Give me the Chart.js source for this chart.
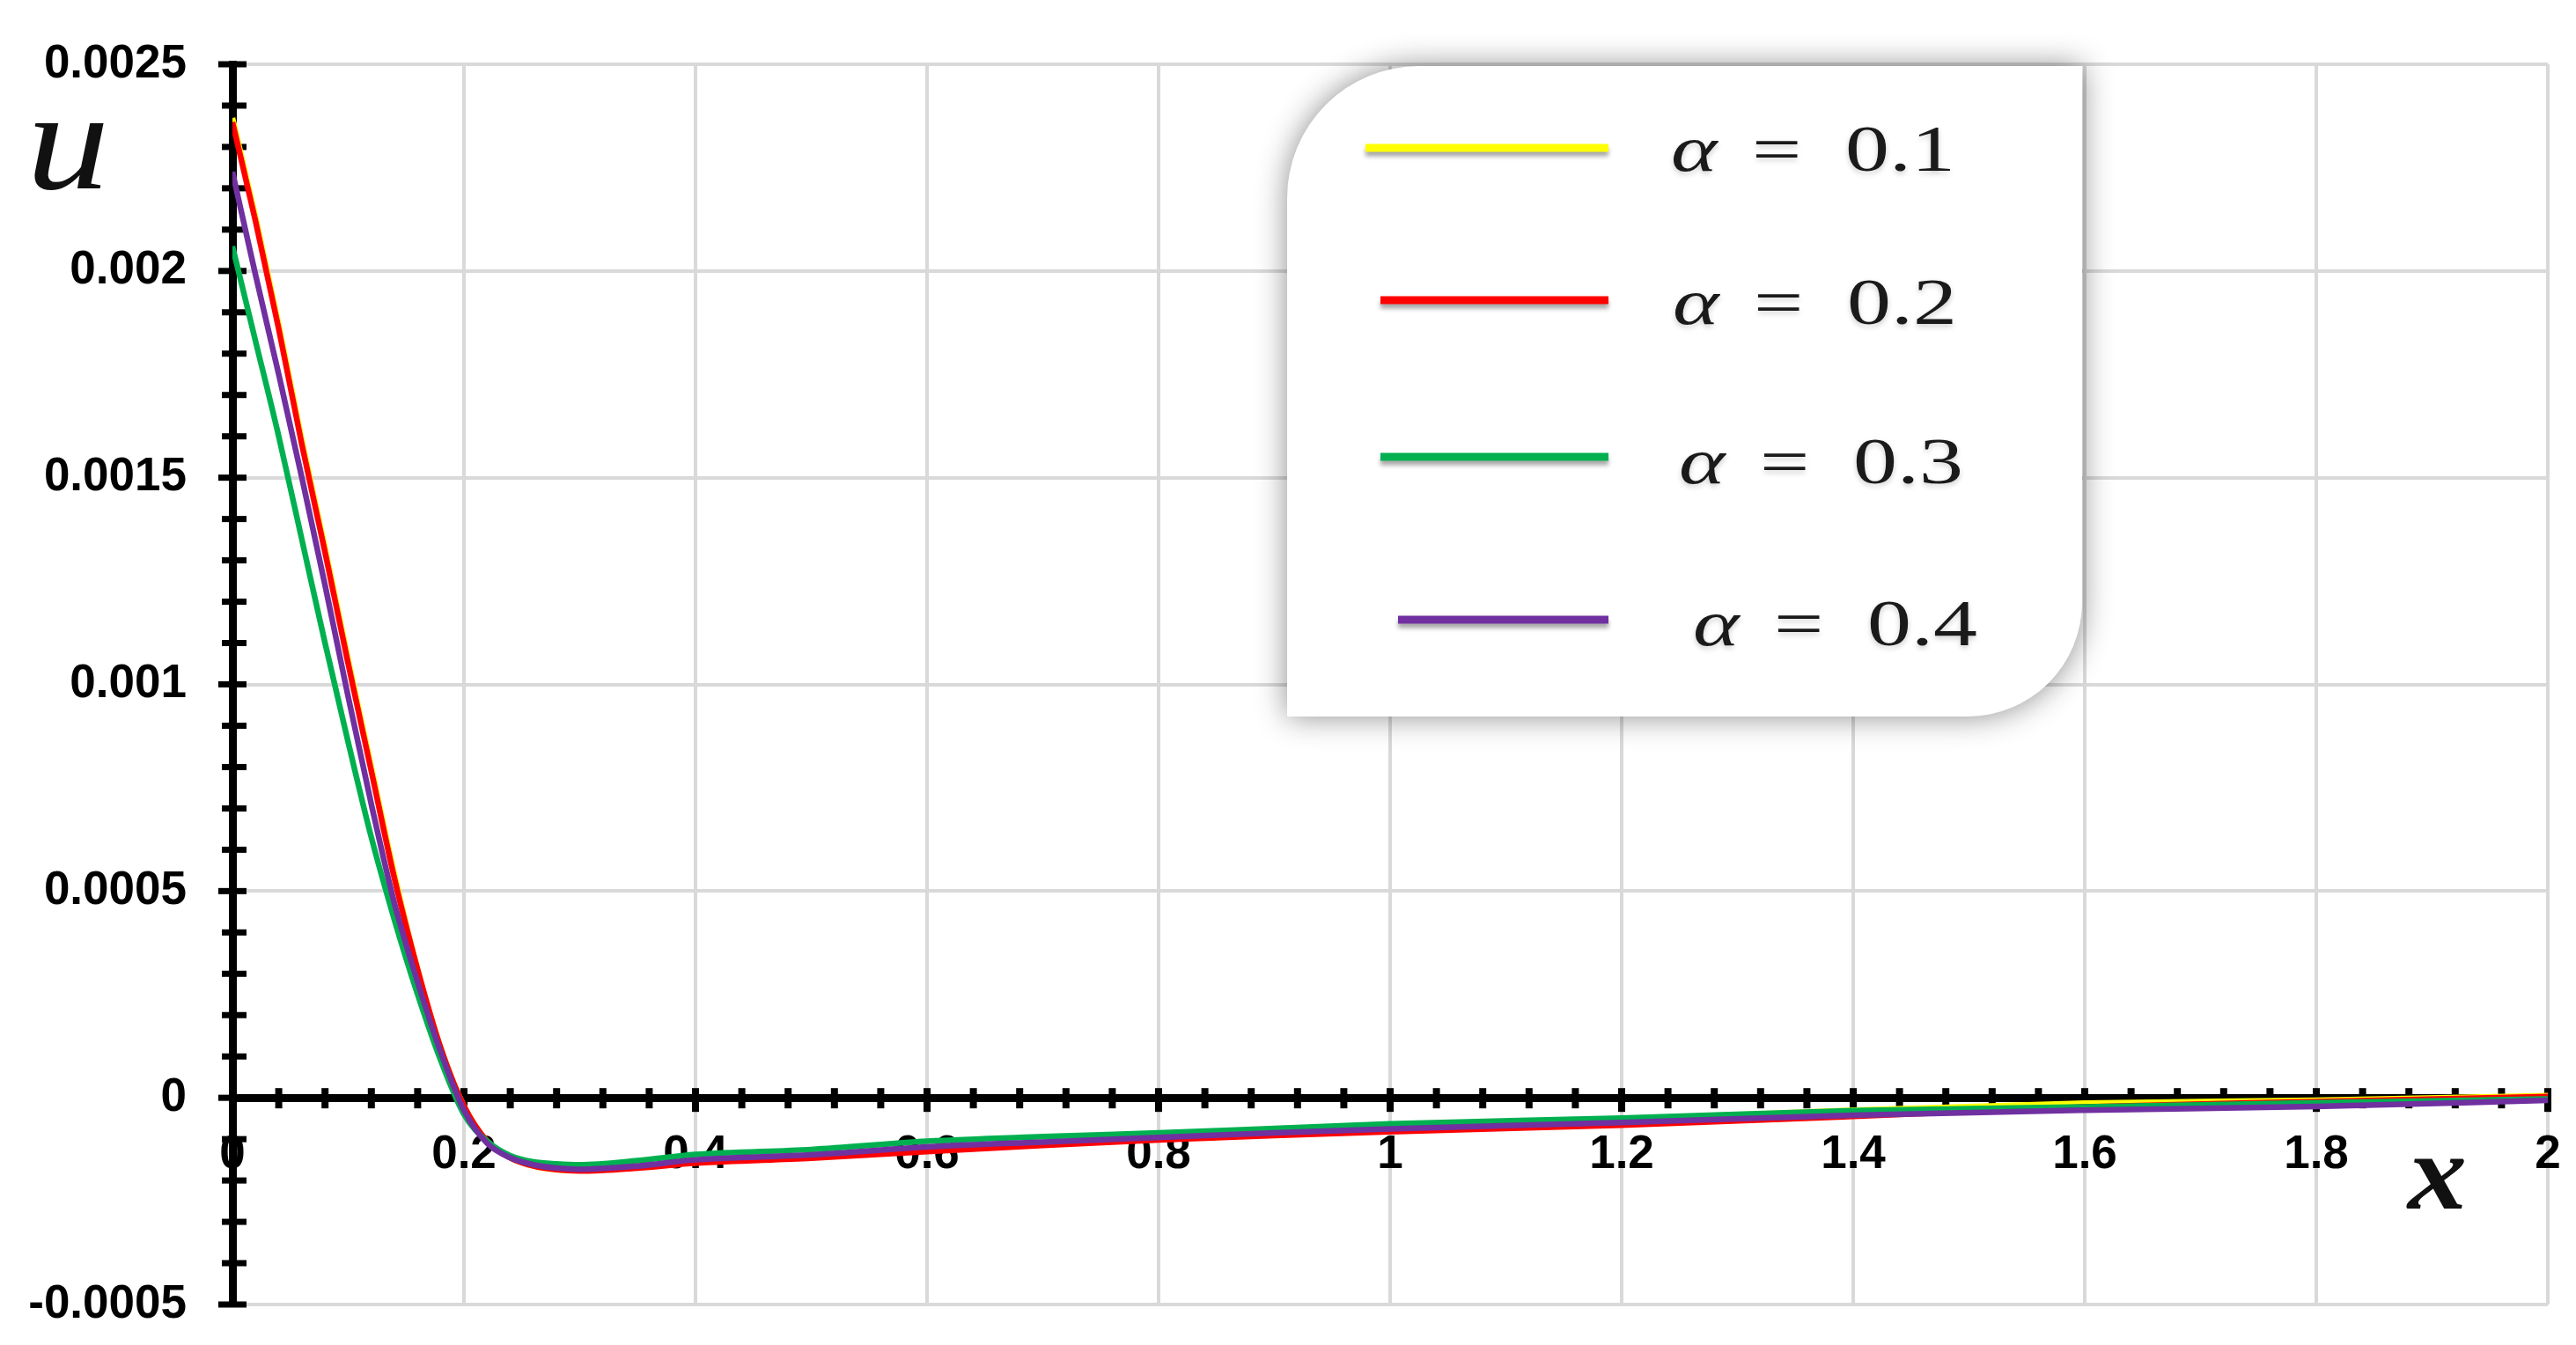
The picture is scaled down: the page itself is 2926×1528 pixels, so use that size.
<!DOCTYPE html>
<html lang="en">
  <head>
    <meta charset="UTF-8" />
    <meta name="viewport" content="width=device-width, initial-scale=1.0" />
    <script src="https://cdn.jsdelivr.net/npm/chart.js@4.4.1/dist/chart.umd.min.js"></script>
    <title>u against x for four alpha values</title>
    <style>
      html, body { margin: 0; padding: 0; background: #fff; }
      #wrap { width: 2926px; height: 1528px; position: relative; }
    </style>
  </head>
  <body>
    <div id="wrap"><canvas id="myChart"></canvas></div>

    <script>
      const xs = [0, 0.02, 0.04, 0.06, 0.08, 0.1, 0.12, 0.14, 0.16, 0.18, 0.2, 0.22, 0.24, 0.26, 0.28, 0.3,
        0.35, 0.4, 0.5, 0.6, 0.7, 0.8, 0.9, 1.0, 1.2, 1.4, 1.6, 1.8, 2.0];

      const alphas = ["0.1", "0.2", "0.3", "0.4"];

      const u01 = [0.00237, 0.00213, 0.00187, 0.00159, 0.00133, 0.00106, 0.0008, 0.00054, 0.00031, 0.00012,
        -0.00002, -0.000105, -0.000145, -0.000165, -0.000174, -0.000176, -0.000169, -0.000157, -0.000144,
        -0.000127, -0.000111, -0.000097, -0.000084, -0.000073, -0.000052, -0.00003, -0.000013, -0.000006, 0.000005];
      const u02 = [0.00236, 0.00212, 0.00186, 0.00158, 0.00132, 0.00105, 0.00079, 0.00053, 0.00031, 0.00012,
        -0.00002, -0.000105, -0.000145, -0.000165, -0.000174, -0.000177, -0.00017, -0.000158, -0.000146,
        -0.00013, -0.000115, -0.000102, -0.000091, -0.000082, -0.000066, -0.000045, -0.000022, -0.000009, 0.000003];
      const u03 = [0.00206, 0.00183, 0.0016, 0.00135, 0.0011, 0.00086, 0.00063, 0.00043, 0.00025, 0.00009,
        -0.00004, -0.000105, -0.00014, -0.000155, -0.00016, -0.000162, -0.000152, -0.000137, -0.000125,
        -0.000105, -0.000094, -0.000085, -0.000074, -0.000063, -0.000049, -0.000031, -0.000022, -0.000012, -0.000003];
      const u04 = [0.00224, 0.00199, 0.00175, 0.0015, 0.00124, 0.00097, 0.00071, 0.00047, 0.00028, 0.00011,
        -0.00003, -0.00011, -0.000145, -0.000162, -0.00017, -0.000173, -0.000165, -0.00015, -0.000138,
        -0.000119, -0.000107, -0.000096, -0.000085, -0.000075, -0.00006, -0.000042, -0.00003, -0.000021, -0.000006];

      const xTickLabels = ["0", "0.2", "0.4", "0.6", "0.8", "1", "1.2", "1.4", "1.6", "1.8", "2"];
      const yTickLabels = ["-0.0005", "0", "0.0005", "0.001", "0.0015", "0.002", "0.0025"];

      const colors = ["#FFFF00", "#FF0000", "#00B050", "#7030A0"];
      const series = [u01, u02, u03, u04];

      const tickFont = { family: "'Liberation Sans', Arial, sans-serif", size: 53, weight: "bold" };

      // minor + major tick marks that cross both axes
      const axisTicks = {
        id: "axisTicks",
        beforeDatasetsDraw(chart) {
          const { ctx, scales: { x, y } } = chart;
          const ax = x.getPixelForValue(0);
          const ay = y.getPixelForValue(0);
          ctx.save();
          ctx.strokeStyle = "#000";
          ctx.lineWidth = 7;
          for (let i = 0; i <= 30; i++) {
            const py = y.getPixelForValue(-0.0005 + i * 0.0001);
            const major = i % 5 === 0;
            ctx.beginPath();
            ctx.moveTo(ax - (major ? 16 : 12), py);
            ctx.lineTo(ax + 16, py);
            ctx.stroke();
          }
          ctx.lineWidth = 8;
          for (let i = 0; i <= 50; i++) {
            const px = x.getPixelForValue(i * 0.04);
            const major = i % 5 === 0;
            ctx.beginPath();
            ctx.moveTo(px, ay - 11);
            ctx.lineTo(px, ay + (major ? 16 : 12));
            ctx.stroke();
          }
          ctx.restore();
        },
      };

      // axis symbols and the rounded legend card
      const decorations = {
        id: "decorations",
        afterDraw(chart) {
          const ctx = chart.ctx;

          ctx.save();
          ctx.fillStyle = "#111";
          ctx.translate(30, 214);
          ctx.scale(1.18, 1);
          ctx.font = "italic 160px 'Liberation Serif', serif";
          ctx.fillText("u", 0, 0);
          ctx.restore();

          ctx.save();
          ctx.fillStyle = "#111";
          ctx.translate(2735, 1373);
          ctx.scale(1.1, 1);
          ctx.font = "italic bold 122px 'Liberation Serif', serif";
          ctx.fillText("x", 0, 0);
          ctx.restore();

          // legend card
          const L = 1462, T = 75, R = 2365, B = 814;
          ctx.save();
          ctx.shadowColor = "rgba(0,0,0,0.45)";
          ctx.shadowBlur = 35;
          ctx.fillStyle = "#fff";
          ctx.beginPath();
          ctx.roundRect(L, T, R - L, B - T, [150, 0, 130, 0]);
          ctx.fill();
          ctx.restore();

          const rowY = [168, 341, 519, 704];
          const lineStart = [1551, 1568, 1568, 1588];
          const textX = [1898, 1900, 1907, 1923];
          const baseY = [194, 368, 549, 733];
          chart.data.datasets.forEach((ds, i) => {
            ctx.save();
            ctx.shadowColor = "rgba(0,0,0,0.35)";
            ctx.shadowBlur = 5;
            ctx.shadowOffsetY = 5;
            ctx.strokeStyle = ds.borderColor;
            ctx.lineWidth = 9;
            ctx.beginPath();
            ctx.moveTo(lineStart[i], rowY[i]);
            ctx.lineTo(1827, rowY[i]);
            ctx.stroke();
            ctx.restore();

            ctx.save();
            ctx.shadowColor = "rgba(0,0,0,0.2)";
            ctx.shadowBlur = 6;
            ctx.shadowOffsetY = 3;
            ctx.fillStyle = "#1a1a1a";
            ctx.translate(textX[i], baseY[i]);
            ctx.scale(1.35, 1);
            ctx.font = "italic 74px 'Liberation Serif', serif";
            ctx.fillText("\u03B1", 0, 0);
            ctx.font = "74px 'Liberation Serif', serif";
            ctx.fillText("=", 92 / 1.35, 0);
            ctx.fillText(alphas[i], 198 / 1.35, 0);
            ctx.restore();
          });
        },
      };

      setup();
      function setup() {
        const ctx = document.getElementById("myChart").getContext("2d");
        const datasets = series.map((vals, i) => ({
          label: "\u03B1 = " + alphas[i],
          data: xs.map((x, j) => ({ x: x, y: vals[j] })),
          borderColor: colors[i],
          backgroundColor: colors[i],
          borderWidth: 6.5,
          pointRadius: 0,
          cubicInterpolationMode: "monotone",
          order: 4 - i, // later series on top, like the original
        }));

        new Chart(ctx, {
          type: "line",
          data: { datasets },
          plugins: [axisTicks, decorations],
          options: {
            responsive: true,
            maintainAspectRatio: false,
            animation: false,
            devicePixelRatio: 1,
            layout: { padding: { top: 73, right: 32, bottom: 46, left: 0 } },
            plugins: { legend: { display: false }, tooltip: { enabled: false } },
            scales: {
              x: {
                type: "linear",
                min: 0,
                max: 2,
                position: { y: 0 },
                grid: {
                  color: (c) => (c.tick && c.tick.value === 0 ? "rgba(0,0,0,0)" : "#d9d9d9"),
                  lineWidth: 4,
                  drawTicks: true,
                  tickLength: 33,
                  tickColor: "rgba(0,0,0,0)",
                },
                border: { display: true, color: "#000", width: 9 },
                ticks: {
                  stepSize: 0.2,
                  autoSkip: false,
                  maxRotation: 0,
                  padding: 0,
                  color: "#000",
                  font: tickFont,
                  callback: (v) => xTickLabels[Math.round(v / 0.2)],
                },
              },
              y: {
                type: "linear",
                min: -0.0005,
                max: 0.0025,
                position: "left",
                afterFit: (s) => { s.width = 264; },
                grid: {
                  color: (c) => (c.tick && Math.abs(c.tick.value) < 1e-9 ? "rgba(0,0,0,0)" : "#d9d9d9"),
                  lineWidth: 4,
                  drawTicks: true,
                  tickLength: 52,
                  tickColor: "rgba(0,0,0,0)",
                },
                border: { display: true, color: "#000", width: 9 },
                ticks: {
                  stepSize: 0.0005,
                  autoSkip: false,
                  padding: 0,
                  color: "#000",
                  font: tickFont,
                  callback: (v) => yTickLabels[Math.round(v / 0.0005) + 1],
                },
              },
            },
          },
        });
      }
    </script>
  </body>
</html>
